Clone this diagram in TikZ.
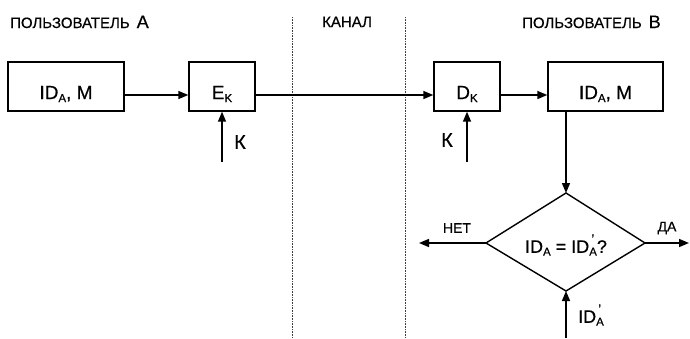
\documentclass[tikz,border=0pt]{standalone}
\usepackage{fontspec}
\setmainfont{Liberation Sans}[FakeBold=0.5]
\usetikzlibrary{arrows.meta}
\newcommand\fsz[1]{\fontsize{#1}{#1}\selectfont}
\newcommand\lowsub[1]{\raisebox{-0.3ex}{\fsz{11.5}#1}}
\newcommand\primesub[1]{\makebox[0pt][l]{\raisebox{1.0ex}{\fsz{13}\,'}}\lowsub{#1}}
\tikzset{
  blk/.style={draw, line width=1.4pt, inner sep=0pt},
  lbl/.style={inner sep=0pt, font=\fsz{18}},
  ttl/.style={inner sep=0pt, anchor=base west, font=\fsz{15}},
  arr/.style={line width=1.5pt, -{Triangle[length=10pt,width=8pt]}},
  sep/.style={line width=0.9pt, black!75, dash pattern=on 0.9pt off 0.7pt},
}
\begin{document}
\begin{tikzpicture}[x=1pt,y=-1pt]
\useasboundingbox (0,0) rectangle (690,338);
% titles
\node[ttl] (tA) at (10,28) {ПОЛЬЗОВАТЕЛЬ\hspace{7pt}{\fsz{18}А}};
\node[ttl] (tK) at (322,27) {КАНАЛ};
\node[ttl] (tB) at (522,28) {ПОЛЬЗОВАТЕЛЬ\hspace{7pt}{\fsz{18}В}};
% separators
\coordinate (s1t) at (292,17); \coordinate (s1b) at (292,338);
\coordinate (s2t) at (405,17); \coordinate (s2b) at (405,338);
\draw[sep] (s1t) -- (s1b);
\draw[sep] (s2t) -- (s2b);
% boxes
\node[blk, minimum width=116pt, minimum height=49pt] (b1) at (66,86.5) {};
\node[lbl, font=\fsz{19}] (b1t) at (66,94) {ID\lowsub{A}, M};
\node[blk, minimum width=66pt, minimum height=49pt] (ek) at (222,86.5) {};
\node[lbl, font=\fsz{19}] (ekt) at (222,94) {E\lowsub{K}};
\node[blk, minimum width=66pt, minimum height=49pt] (dk) at (467,86.5) {};
\node[lbl, font=\fsz{19}] (dkt) at (467,94) {D\lowsub{K}};
\node[blk, minimum width=115pt, minimum height=49pt] (b2) at (605.5,86.5) {};
\node[lbl, font=\fsz{19}] (b2t) at (605.5,94) {ID\lowsub{A}, M};
% horizontal arrows
\draw[arr] ([yshift=-8.5pt]b1.east) -- ([yshift=-8.5pt]ek.west);
\draw[arr] ([yshift=-8.5pt]ek.east) -- ([yshift=-8.5pt]dk.west);
\draw[arr] ([yshift=-8.5pt]dk.east) -- ([yshift=-8.5pt]b2.west);
% key arrows
\coordinate (k1) at (222,162);
\coordinate (k2) at (467,162);
\draw[arr] (k1) -- (ek.south);
\draw[arr] (k2) -- (dk.south);
\node[lbl, font=\fsz{20}] (k1t) at (240,142) {К};
\node[lbl, font=\fsz{20}] (k2t) at (447,140) {К};
% diamond
\coordinate (dt) at (566,193);
\coordinate (dr) at (645,243);
\coordinate (db) at (566,291);
\coordinate (dl) at (486,243);
\draw[line width=1.4pt, line join=miter] (dt) -- (dr) -- (db) -- (dl) -- cycle;
\node[lbl] (dtx) at (566,245) {ID\lowsub{A} = ID\primesub{A}?};
\draw[arr] (b2.south -| dt) -- (dt);
\coordinate (no) at (419,243);
\coordinate (yes) at (689,243);
\draw[arr] (dl) -- (no);
\draw[arr] (dr) -- (yes);
\node[lbl, font=\fsz{14}] (not) at (457,228) {НЕТ};
\node[lbl, font=\fsz{14}] (yest) at (667,228) {ДА};
\coordinate (ib) at (566,338);
\draw[arr] (ib) -- (db);
\node[lbl] (ibt) at (591,315) {ID\primesub{A}};
\end{tikzpicture}
\end{document}
